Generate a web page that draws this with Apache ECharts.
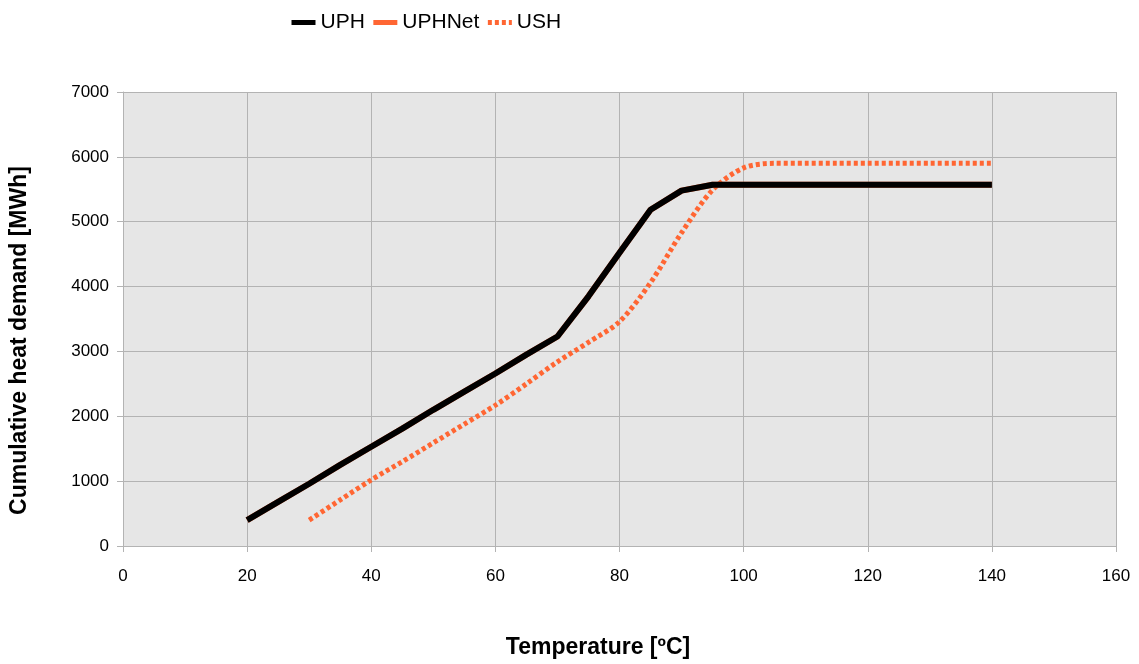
<!DOCTYPE html>
<html>
<head>
<meta charset="utf-8">
<script src="https://cdn.jsdelivr.net/npm/echarts@6/dist/echarts.min.js"></script>
<style>
  html, body { margin: 0; padding: 0; background: #fff; }
  #main { width: 1139px; height: 664px; }
</style>
</head>
<body>
<div id="main"></div>
<script>
var temps_uph = [20, 25, 30, 35, 40, 45, 50, 55, 60, 65, 70, 75, 80, 85, 90, 95, 100, 105, 110, 115, 120, 125, 130, 135, 140]
var uph = [400, 680, 960, 1250, 1530, 1810, 2100, 2380, 2660, 2950, 3230, 3850, 4520, 5185, 5480, 5570, 5570, 5570, 5570, 5570, 5570, 5570, 5570, 5570, 5570]
var uphnet = [400, 680, 960, 1250, 1530, 1810, 2100, 2380, 2660, 2950, 3230, 3850, 4520, 5185, 5480, 5570, 5570, 5570, 5570, 5570, 5570, 5570, 5570, 5570, 5570]
var temps_ush = [30, 35, 40, 45, 50, 55, 60, 65, 70, 75, 80, 85, 90, 95, 100, 105, 110, 115, 120, 125, 130, 135, 140]
var ush = [400, 710, 1020, 1300, 1590, 1880, 2170, 2500, 2840, 3140, 3460, 4060, 4830, 5490, 5830, 5900, 5900, 5900, 5900, 5900, 5900, 5900, 5900]

function pairs(xs, ys) {
    var out = []
    for (var i = 0; i < xs.length; i++) {
        out.push([xs[i], ys[i]])
    }
    return out
}

var myChart = echarts.init(document.getElementById('main'))
var font = 'Liberation Sans, Arial, sans-serif'
var option = {
    animation: false,
    legend: {
        top: 7,
        left: 284,
        itemWidth: 24,
        itemHeight: 14,
        itemGap: 6,
        itemStyle: { opacity: 0 },
        lineStyle: { width: 5 },
        textStyle: { fontFamily: font, fontSize: 21, color: '#000' },
        data: ['UPH', 'UPHNet', 'USH'],
    },
    grid: {
        left: 123,
        right: 23,
        top: 92,
        bottom: 117,
        show: true,
        backgroundColor: '#e6e6e6',
        borderWidth: 0,
    },
    xAxis: {
        type: 'value',
        min: 0,
        max: 160,
        interval: 20,
        name: 'Temperature [ºC]',
        nameLocation: 'middle',
        nameGap: 90,
        nameTextStyle: { fontFamily: font, fontSize: 23, fontWeight: 'bold', color: '#000', padding: [0, 43, 0, 0] },
        axisLine: { show: true, onZero: false, lineStyle: { color: '#b3b3b3' } },
        axisTick: { show: true, inside: false, length: 6, lineStyle: { color: '#b3b3b3' } },
        axisLabel: { fontFamily: font, fontSize: 17, color: '#000', margin: 22 },
        splitLine: { show: true, lineStyle: { color: '#b3b3b3', width: 1 } },
    },
    yAxis: {
        type: 'value',
        min: 0,
        max: 7000,
        interval: 1000,
        name: 'Cumulative heat demand [MWh]',
        nameLocation: 'middle',
        nameGap: 92,
        nameTextStyle: { fontFamily: font, fontSize: 23, fontWeight: 'bold', color: '#000', padding: [0, 43, 0, 0] },
        axisLine: { show: true, lineStyle: { color: '#b3b3b3' } },
        axisTick: { show: true, inside: false, length: 6, lineStyle: { color: '#b3b3b3' } },
        axisLabel: { fontFamily: font, fontSize: 17, color: '#000', margin: 14, formatter: function (v) { return String(v) } },
        splitLine: { show: true, lineStyle: { color: '#b3b3b3', width: 1 } },
    },
    series: [
        {
            name: 'USH',
            type: 'line',
            showSymbol: false,
            symbol: 'none',
            smooth: 0.3,
            z: 1,
            color: '#ff6633',
            lineStyle: { color: '#ff6633', width: 5, type: [4, 3], cap: 'butt' },
            data: pairs(temps_ush, ush),
        },
        {
            name: 'UPHNet',
            type: 'line',
            showSymbol: false,
            symbol: 'none',
            z: 2,
            color: '#ff6633',
            lineStyle: { color: '#ff6633', width: 6 },
            data: pairs(temps_uph, uphnet),
        },
        {
            name: 'UPH',
            type: 'line',
            showSymbol: false,
            symbol: 'none',
            z: 3,
            color: '#000000',
            lineStyle: { color: '#000000', width: 6 },
            data: pairs(temps_uph, uph),
        },
    ]
}
myChart.setOption(option)
</script>
</body>
</html>
